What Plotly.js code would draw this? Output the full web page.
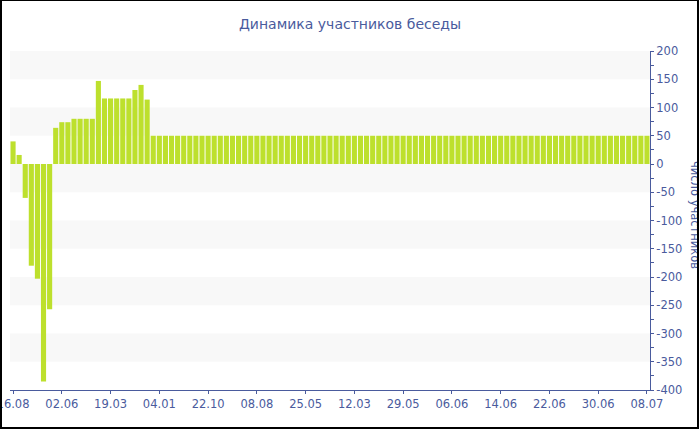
<!DOCTYPE html>
<html>
<head>
<meta charset="utf-8">
<script src="https://cdn.plot.ly/plotly-3.0.1.min.js"></script>
<style>
html, body { margin: 0; padding: 0; background: #fff; }
#wrap { position: relative; width: 700px; height: 430px; }
#chart { width: 700px; height: 430px; }
#frame { position: absolute; left: 0; top: 0; width: 699px; height: 429px; box-sizing: border-box;
  border-style: solid; border-color: #000; border-width: 1px 2px 2px 2px; pointer-events: none; }
</style>
</head>
<body>
<div id="wrap"><div id="chart"></div><div id="frame"></div></div>
<script>
// Chart data
const chartTitle = 'Динамика участников беседы';
const yTitle = 'число участников';
const participants = [
  40, 16, -60, -180, -203, -385, -257, 64, 74, 74,
  80, 80, 80, 80, 147, 116, 116, 116, 116, 116,
  131, 140, 114, 50, 50, 50, 50, 50, 50, 50,
  50, 50, 50, 50, 50, 50, 50, 50, 50, 50,
  50, 50, 50, 50, 50, 50, 50, 50, 50, 50,
  50, 50, 50, 50, 50, 50, 50, 50, 50, 50,
  50, 50, 50, 50, 50, 50, 50, 50, 50, 50,
  50, 50, 50, 50, 50, 50, 50, 50, 50, 50,
  50, 50, 50, 50, 50, 50, 50, 50, 50, 50,
  50, 50, 50, 50, 50, 50, 50, 50, 50, 50,
  50, 50, 50, 50, 50
];
const xTickLabels = ['16.08', '02.06', '19.03', '04.01', '22.10', '08.08', '25.05',
                     '12.03', '29.05', '06.06', '14.06', '22.06', '30.06', '08.07'];
const xTickEvery = 8;
const yTickLabels = ['-400', '-350', '-300', '-250', '-200', '-150', '-100', '-50',
                     '0', '50', '100', '150', '200'];

const axisColor = '#4a5b9d';
const font = 'DejaVu Sans, Verdana, sans-serif';

const xIdx = participants.map((_, i) => i);
const yVals = yTickLabels.map(Number);
const yMin = Math.min(...yVals), yMax = Math.max(...yVals);

// alternating bands every 50 (grey from top band)
const shapes = [];
for (let k = 0; k < yVals.length - 1; k++) {
  const hi = yMax - k * 50;
  if (k % 2 === 0) {
    shapes.push({type: 'rect', xref: 'paper', yref: 'y', x0: 0, x1: 1, y0: hi - 50, y1: hi,
      fillcolor: '#f8f8f8', line: {width: 0}, layer: 'below'});
  }
}

const trace = {
  type: 'bar',
  x: xIdx,
  y: participants,
  marker: {color: '#bde02d', line: {width: 0}},
  hoverinfo: 'x+y'
};

const layout = {
  width: 700, height: 430,
  margin: {l: 10, r: 50, t: 51, b: 40, pad: 0},
  paper_bgcolor: '#fff', plot_bgcolor: 'rgba(0,0,0,0)',
  bargap: 0.16,
  showlegend: false,
  font: {family: font, color: axisColor, size: 11.5},
  title: {text: chartTitle, font: {family: font, size: 14, color: axisColor},
          x: 0.5, xanchor: 'center', y: 1 - 24 / 430, yanchor: 'middle', yref: 'container'},
  xaxis: {
    range: [-0.5, participants.length - 0.5],
    tickmode: 'array',
    tickvals: xTickLabels.map((_, k) => k * xTickEvery),
    ticktext: xTickLabels,
    ticks: 'outside', ticklen: 3, tickcolor: axisColor, tickwidth: 1,
    ticklabeloverflow: 'allow',
    showline: true, linecolor: axisColor, linewidth: 1,
    showgrid: false, zeroline: false,
    tickfont: {family: font, size: 11.5, color: axisColor},
    fixedrange: true
  },
  yaxis: {
    side: 'right',
    range: [yMin, yMax],
    tickmode: 'array',
    tickvals: yVals,
    ticktext: yTickLabels,
    ticks: 'outside', ticklen: 3, tickcolor: axisColor, tickwidth: 1,
    ticklabeloverflow: 'allow',
    minor: {tickmode: 'linear', tick0: 0, dtick: 25, ticks: 'outside', ticklen: 3, tickcolor: axisColor, showgrid: false},
    showline: true, linecolor: axisColor, linewidth: 1,
    showgrid: false, zeroline: false,
    tickfont: {family: font, size: 11.5, color: axisColor},
    fixedrange: true
  },
  shapes: shapes,
  annotations: [{
    text: yTitle, textangle: 90,
    xref: 'paper', yref: 'paper',
    x: 1 + (695 - 650) / 640, y: (390 - 215) / 339,
    xanchor: 'center', yanchor: 'middle', showarrow: false,
    font: {family: font, size: 11.5, color: axisColor}
  }]
};

Plotly.newPlot('chart', [trace], layout, {displayModeBar: false, staticPlot: true});
</script>
</body>
</html>
